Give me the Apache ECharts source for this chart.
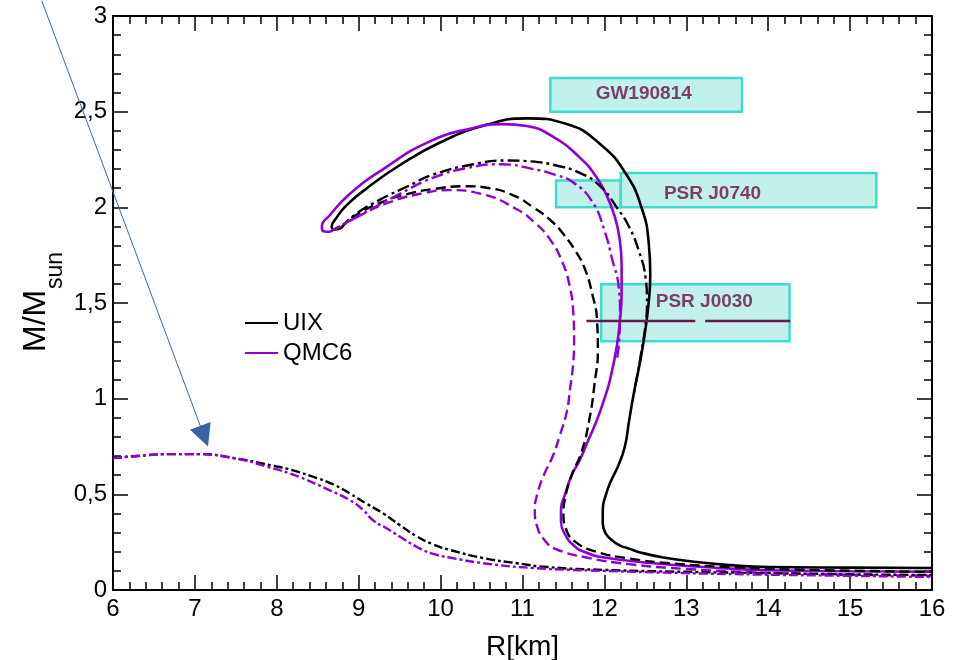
<!DOCTYPE html>
<html>
<head>
<meta charset="utf-8">
<script src="https://cdn.jsdelivr.net/npm/echarts@6/dist/echarts.min.js"></script>
<style>html,body{margin:0;padding:0;background:#fff}#c{width:968px;height:660px}</style>
</head>
<body>
<div id="c"></div>
<script>
// ---- data (R in km, M in solar masses) ----
const uixSolid = [[16.0,0.115],[15.0,0.117],[14.0,0.12],[13.53,0.13],[13.13,0.146],[12.72,0.17],[12.45,0.195],[12.31,0.215],[12.18,0.235],[12.08,0.265],[12.01,0.3],[11.98,0.35],[11.98,0.42],[12.02,0.5],[12.08,0.57],[12.17,0.65],[12.25,0.75],[12.3,0.88],[12.36,1.03],[12.43,1.18],[12.49,1.33],[12.54,1.5],[12.56,1.65],[12.54,1.82],[12.46,1.99],[12.27,2.17],[11.95,2.33],[11.54,2.435],[11.05,2.465],[10.55,2.43],[10.0,2.34],[9.5,2.22],[9.1,2.10],[8.85,2.01],[8.72,1.94],[8.67,1.90],[8.7,1.885],[8.78,1.89]];
const uixDashDot = [[8.78,1.89],[8.95,1.96],[9.26,2.04],[9.6,2.11],[9.9,2.17],[10.4,2.225],[10.8,2.245],[11.1,2.24],[11.4,2.22],[11.7,2.18],[11.95,2.11],[12.15,2.0],[12.3,1.9],[12.43,1.76],[12.5,1.64],[12.52,1.5],[12.5,1.38],[12.45,1.24],[12.4,1.12],[12.36,1.03]];
const uixDashed = [[8.78,1.89],[8.95,1.955],[9.3,2.03],[9.6,2.07],[9.9,2.095],[10.3,2.11],[10.6,2.1],[10.9,2.06],[11.13,2.0],[11.35,1.93],[11.5,1.86],[11.65,1.77],[11.76,1.68],[11.85,1.55],[11.91,1.41],[11.92,1.25],[11.88,1.08],[11.82,0.9],[11.72,0.72],[11.6,0.6],[11.52,0.48],[11.5,0.4],[11.53,0.32],[11.65,0.25],[11.9,0.2],[12.3,0.165],[12.8,0.14],[13.5,0.12],[14.5,0.105],[16.0,0.095]];
const uixLow = [[6.0,0.69],[6.3,0.70],[6.66,0.71],[7.06,0.71],[7.47,0.69],[7.95,0.65],[8.2,0.625],[8.49,0.585],[8.7,0.55],[8.89,0.505],[9.1,0.45],[9.3,0.40],[9.5,0.34],[9.71,0.28],[9.9,0.24],[10.11,0.21],[10.52,0.167],[10.93,0.14],[11.3,0.12],[12.0,0.105],[13.0,0.095],[14.0,0.088],[15.0,0.082],[16.0,0.078]];

const qmcSolid = [[16.0,0.095],[15.0,0.098],[14.0,0.103],[13.4,0.115],[12.6,0.14],[12.0,0.17],[11.75,0.2],[11.62,0.235],[11.52,0.29],[11.47,0.36],[11.47,0.42],[11.52,0.5],[11.6,0.6],[11.7,0.68],[11.8,0.78],[11.91,0.89],[12.0,1.0],[12.07,1.10],[12.15,1.27],[12.19,1.41],[12.21,1.55],[12.21,1.7],[12.18,1.85],[12.12,1.96],[12.03,2.06],[11.9,2.16],[11.7,2.26],[11.37,2.37],[11.05,2.425],[10.76,2.435],[10.4,2.415],[9.87,2.345],[9.3,2.2],[8.89,2.07],[8.65,1.96],[8.55,1.9],[8.57,1.875],[8.65,1.872]];
const qmcDashDot = [[8.65,1.872],[8.98,1.95],[9.5,2.07],[9.91,2.155],[10.32,2.205],[10.73,2.225],[11.13,2.2],[11.4,2.17],[11.62,2.13],[11.85,2.03],[12.0,1.88],[12.1,1.72],[12.17,1.6],[12.19,1.45],[12.18,1.3],[12.15,1.2]];
const qmcDashed = [[8.65,1.872],[8.98,1.95],[9.4,2.03],[9.8,2.075],[10.1,2.09],[10.5,2.07],[10.93,1.99],[11.15,1.92],[11.34,1.83],[11.48,1.72],[11.57,1.6],[11.62,1.45],[11.63,1.3],[11.62,1.19],[11.58,1.05],[11.54,0.93],[11.45,0.8],[11.37,0.70],[11.26,0.6],[11.18,0.5],[11.15,0.42],[11.18,0.33],[11.27,0.26],[11.4,0.215],[11.78,0.17],[12.3,0.135],[13.0,0.11],[14.0,0.09],[15.0,0.08],[16.0,0.075]];
const qmcLow = [[6.0,0.69],[6.3,0.70],[6.66,0.71],[7.06,0.71],[7.47,0.69],[7.88,0.645],[8.28,0.59],[8.6,0.53],[8.89,0.47],[9.05,0.42],[9.17,0.366],[9.35,0.32],[9.5,0.28],[9.71,0.225],[9.9,0.19],[10.11,0.17],[10.52,0.14],[11.13,0.115],[12.0,0.1],[13.0,0.088],[14.0,0.08],[15.0,0.074],[16.0,0.068]];

// observational constraint boxes: R range, M range
const boxR = [[11.34,13.68],[11.41,12.2],[12.2,15.32],[11.96,14.26]];
const boxM = [[2.50,2.676],[2.0,2.14],[2.0,2.18],[1.30,1.598]];
const boxLabels = ['GW190814','PSR J0740','PSR J0030'];
const boxLabelPos = [[12.48,2.593],[13.32,2.07],[13.22,1.507]];
const j0030Bar = [[[11.78,1.406],[13.11,1.406]],[[13.23,1.406],[14.27,1.406]]];
const arrowPts = [[5.13,3.08],[7.16,0.75]];

const xTicks = {min:6, max:16, interval:1};
const yTicks = {min:0, max:3, interval:0.5};

const BLACK = '#000000', PURPLE = '#8f00d6';
const FONT = '"Liberation Sans", Arial, sans-serif';
const DASH = [10,5], DASHDOT = [12,4,3,4], LOWDASH = [9,3,3,3];

function curve(name, data, color, type, w) {
  return {name, type:'line', data, symbol:'none', smooth:0.5, z:3,
    lineStyle:{color, width:w||2.4, type}, itemStyle:{color}, clip:true, animation:false};
}

const chart = echarts.init(document.getElementById('c'), null, {renderer:'canvas'});

const axisCommon = {
  axisLine:{show:true, onZero:false, lineStyle:{color:'#000', width:2}},
  axisTick:{show:true, inside:true, length:15, lineStyle:{color:'#000', width:1.5}},
  minorTick:{show:true, splitNumber:5, length:8, lineStyle:{color:'#000', width:1.5}},
  splitLine:{show:false}, minorSplitLine:{show:false}
};

const markAreaData = boxR.map((r,i)=>[{coord:[r[0], boxM[i][0]]},{coord:[r[1], boxM[i][1]]}]);

const option = {
  animation:false,
  backgroundColor:'#fff',
  grid:{left:113, right:36, top:16, bottom:70, containLabel:false, outerBoundsMode:'none'},
  legend:{
    data:['UIX','QMC6'], orient:'vertical', left:245, top:311, icon:'rect', padding:0,
    itemWidth:33, itemHeight:2, itemGap:6,
    textStyle:{fontSize:24, fontFamily:FONT, color:'#000', lineHeight:24}
  },
  xAxis:[
    Object.assign({type:'value', position:'bottom', min:xTicks.min, max:xTicks.max, interval:xTicks.interval,
      axisLabel:{fontSize:24, color:'#000', fontFamily:FONT, margin:7},
      name:'R[km]', nameLocation:'middle', nameGap:43,
      nameTextStyle:{fontSize:28, color:'#000', fontFamily:FONT}}, axisCommon),
    Object.assign({type:'value', position:'top', min:xTicks.min, max:xTicks.max, interval:xTicks.interval,
      axisLabel:{show:false}}, axisCommon)
  ],
  yAxis:[
    Object.assign({type:'value', position:'left', min:yTicks.min, max:yTicks.max, interval:yTicks.interval,
      axisLabel:{fontSize:24, color:'#000', fontFamily:FONT, margin:6,
        formatter:v=>String(v).replace('.',',')}}, axisCommon),
    Object.assign({type:'value', position:'right', min:yTicks.min, max:yTicks.max, interval:yTicks.interval,
      axisLabel:{show:false}}, axisCommon)
  ],
  series:[
    {name:'boxes', type:'line', data:[], z:1, silent:true,
      markArea:{silent:true, itemStyle:{color:'#c2f1ec', borderColor:'#3fdccd', borderWidth:2.5},
        label:{show:false}, data:markAreaData}},
    curve('UIX', uixSolid, BLACK, 'solid', 2.6),
    curve('QMC6', qmcSolid, PURPLE, 'solid', 2.6),
    curve('UIX', uixDashDot, BLACK, DASHDOT),
    curve('UIX', uixDashed, BLACK, DASH),
    curve('QMC6', qmcDashDot, PURPLE, DASHDOT),
    curve('QMC6', qmcDashed, PURPLE, DASH),
    curve('UIX', uixLow, BLACK, LOWDASH),
    curve('QMC6', qmcLow, PURPLE, LOWDASH),
    {name:'J0030a', type:'line', data:j0030Bar[0], symbol:'none', z:4, lineStyle:{color:'#6b1a4c', width:2.5}},
    {name:'J0030b', type:'line', data:j0030Bar[1], symbol:'none', z:4, lineStyle:{color:'#6b1a4c', width:2.5}},
    {name:'labels', type:'scatter', symbolSize:0, z:5, silent:true,
      data:boxLabelPos.map((p,i)=>({name:boxLabels[i], value:p})),
      label:{show:true, position:'inside', formatter:'{b}', color:'#6b1043', fontWeight:'bold',
        fontSize:19, fontFamily:FONT}}
  ]
};
chart.setOption(option);

// y-axis title with subscript and the annotation arrow
const p0 = chart.convertToPixel({gridIndex:0}, arrowPts[0]);
const p1 = chart.convertToPixel({gridIndex:0}, arrowPts[1]);
const dx = p1[0]-p0[0], dy = p1[1]-p0[1], L = Math.hypot(dx,dy);
const ux = dx/L, uy = dy/L, nx = -uy, ny = ux;
const headL = 22, headW = 11;
const bx = p1[0]-ux*headL, by = p1[1]-uy*headL;
chart.setOption({graphic:[
  {type:'line', z:10, shape:{x1:p0[0], y1:p0[1], x2:bx, y2:by}, style:{stroke:'#3768a8', lineWidth:1}},
  {type:'polygon', z:10, shape:{points:[[p1[0],p1[1]],[bx+nx*headW, by+ny*headW],[bx-nx*headW, by-ny*headW]]},
    style:{fill:'#3465a4'}},
  {type:'group', x:45, y:302, rotation:Math.PI/2, children:[
    {type:'text', x:-50, y:7, style:{text:'M/M', font:'32px '+FONT, fill:'#000', align:'left', verticalAlign:'bottom'}},
    {type:'text', x:13, y:22, style:{text:'sun', font:'23px '+FONT, fill:'#000', align:'left', verticalAlign:'bottom'}}
  ]}
]});
</script>
</body>
</html>
